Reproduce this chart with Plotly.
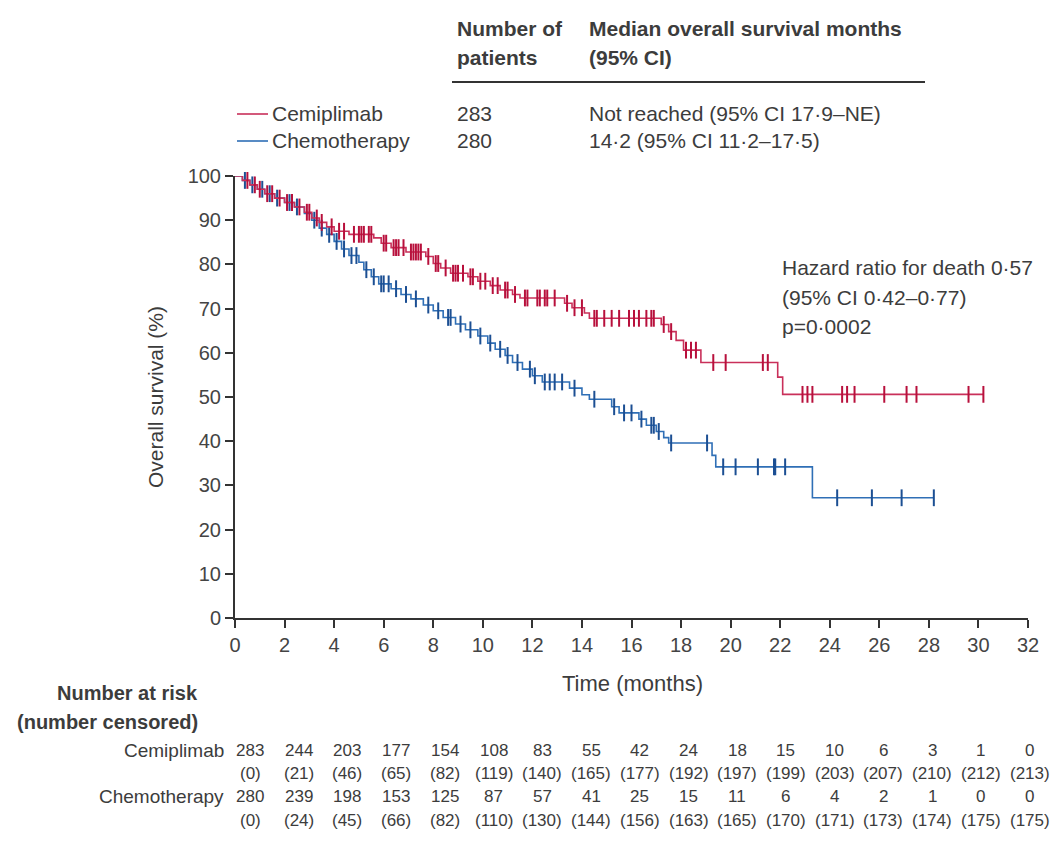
import numpy as np
import plotly.graph_objects as go

# ---- Kaplan-Meier estimates: step start times (months) and survival (%) ----
cemi_time = [0, 0.3, 0.6, 0.9, 1.2, 1.6, 2.0, 2.4, 2.8, 3.1, 3.4, 3.7, 4.0, 4.6,
             5.6, 5.9, 6.3, 6.9, 7.7, 8.0, 8.3, 8.7, 9.4, 9.8, 10.3, 10.7, 11.2,
             11.5, 13.3, 13.6, 14.1, 14.3, 17.2, 17.5, 17.8, 18.1, 18.8, 21.9, 22.1]
cemi_surv = [100, 99, 98, 97, 96, 95, 94, 93, 91.8, 90.5, 89.5, 88.5, 87.5, 86.8,
             86, 84.8, 83.8, 82.8, 81.8, 80.2, 79.2, 78, 77.2, 76.2, 75.2, 74.2, 73.2,
             72.4, 71.2, 70.2, 69, 67.8, 66.4, 64.8, 62.8, 60.6, 57.8, 54.5, 50.6]
cemi_last = 30.2

chemo_time = [0, 0.3, 0.6, 0.9, 1.2, 1.6, 2.0, 2.4, 2.8, 3.1, 3.4, 3.7, 4.0, 4.3,
              4.6, 5.0, 5.2, 5.5, 5.8, 6.3, 6.7, 7.1, 7.6, 8.0, 8.4, 8.9, 9.3, 9.8,
              10.2, 10.5, 10.9, 11.2, 11.6, 12.0, 12.4, 13.5, 14.0, 14.3, 15.2, 15.5,
              16.3, 16.6, 17.0, 17.3, 17.5, 19.25, 19.4, 23.3]
chemo_surv = [100, 99, 98, 97, 96, 95, 94, 93, 91.5, 90, 88.2, 86.8, 85.2, 83.5,
              82, 80.5, 78.8, 77.2, 75.6, 74.5, 73.2, 72.2, 70.8, 69.5, 68, 66.5, 65.2, 63.8,
              62.2, 60.8, 59.4, 57.8, 56.3, 54.8, 53.4, 52, 50.5, 49.5, 47.8, 46.4,
              45, 43.6, 42.2, 40.8, 39.6, 36.8, 34.2, 27.2]
chemo_last = 28.2

# ---- censoring times (months) ----
cemi_censor = [0.5, 0.8, 1.0, 1.3, 1.5, 1.8, 2.1, 2.3, 2.6, 2.9, 3.0, 3.3, 3.5, 3.9,
               4.2, 4.4, 4.8, 5.0, 5.1, 5.2, 5.4, 5.5, 6.0, 6.1, 6.4, 6.5, 6.6, 6.8,
               7.1, 7.2, 7.3, 7.4, 7.5, 7.8, 8.1, 8.2, 8.5, 8.8, 8.9, 9.0, 9.2, 9.5,
               9.6, 9.9, 10.1, 10.4, 10.6, 10.9, 11.0, 11.3, 11.7, 11.8, 12.2, 12.3,
               12.5, 12.6, 12.9, 13.4, 13.7, 14.0, 14.5, 14.6, 14.9, 15.2, 15.5, 15.9,
               16.1, 16.3, 16.6, 16.8, 16.9, 17.3, 17.6, 18.2, 18.4, 18.6, 19.3, 19.8,
               21.3, 21.5, 22.9, 23.1, 23.3, 24.5, 24.7, 25.0, 26.2, 27.1, 27.5, 29.6, 30.2]
chemo_censor = [0.4, 0.7, 1.1, 1.4, 1.7, 2.2, 2.5, 3.2, 3.5, 3.8, 4.1, 4.4, 4.7, 4.9,
                5.3, 5.6, 5.9, 6.0, 6.2, 6.5, 6.9, 7.3, 7.8, 8.2, 8.6, 8.7, 9.1, 9.5,
                9.9, 10.3, 10.7, 11.0, 11.4, 11.9, 12.1, 12.5, 12.7, 12.9, 13.2, 13.7,
                14.5, 15.3, 15.7, 16.0, 16.4, 16.8, 16.9, 17.1, 17.6, 19.05, 19.7, 20.2,
                21.1, 21.75, 21.8, 22.2, 24.3, 25.7, 26.9, 28.2]

# ---- number at risk table ----
risk_times = list(range(0, 33, 2))
cemi_risk = [283, 244, 203, 177, 154, 108, 83, 55, 42, 24, 18, 15, 10, 6, 3, 1, 0]
cemi_cens = [0, 21, 46, 65, 82, 119, 140, 165, 177, 192, 197, 199, 203, 207, 210, 212, 213]
chemo_risk = [280, 239, 198, 153, 125, 87, 57, 41, 25, 15, 11, 6, 4, 2, 1, 0, 0]
chemo_cens = [0, 24, 45, 66, 82, 110, 130, 144, 156, 163, 165, 170, 171, 173, 174, 175, 175]

RED_LINE, RED_MARK = "#C9305A", "#B8103C"
BLUE_LINE, BLUE_MARK = "#2F6FB6", "#1C4F93"
TXT = "#3c3c3c"
FONT = "Liberation Sans, Arial, sans-serif"

W, H = 1053, 854
L, R, T, B = 235, 25, 176, 236
PW, PH = W - L - R, H - T - B


def px(x):
    return (x - L) / PW


def py(y):
    return (H - B - y) / PH


def surv_at(times, survs, t):
    i = np.searchsorted(np.array(times), t, side="right") - 1
    return survs[i]


fig = go.Figure()

for times, survs, last, cens, lc, mc in [
    (chemo_time, chemo_surv, chemo_last, chemo_censor, BLUE_LINE, BLUE_MARK),
    (cemi_time, cemi_surv, cemi_last, cemi_censor, RED_LINE, RED_MARK),
]:
    fig.add_trace(go.Scatter(
        x=list(times) + [last], y=list(survs) + [survs[-1]],
        mode="lines", line=dict(color=lc, width=1.6, shape="hv"),
        cliponaxis=False, hoverinfo="skip"))
    fig.add_trace(go.Scatter(
        x=cens, y=[surv_at(times, survs, t) for t in cens],
        mode="markers", cliponaxis=False,
        marker=dict(symbol="line-ns", size=12, line=dict(color=mc, width=2))))

ann = []


def text(x, y, s, size=21, anchor="left", bold=False, color=TXT):
    ann.append(dict(x=px(x), y=py(y), xref="paper", yref="paper",
                    text=f"<b>{s}</b>" if bold else s, showarrow=False,
                    xanchor=anchor, yanchor="middle",
                    font=dict(family=FONT, size=size, color=color)))


# header table with legend
text(455, 28, "Number of", bold=True)
text(455, 57, "patients", bold=True)
text(587, 28, "Median overall survival months", bold=True)
text(587, 57, "(95% CI)", bold=True)
text(270, 113, "Cemiplimab")
text(270, 140, "Chemotherapy")
text(455, 113, "283")
text(455, 140, "280")
text(587, 113, "Not reached (95% CI 17·9–NE)")
text(587, 140, "14·2 (95% CI 11·2–17·5)")

# hazard ratio
text(780, 267, "Hazard ratio for death 0·57")
text(780, 297, "(95% CI 0·42–0·77)")
text(780, 326, "p=0·0002")

# axis titles
text(632, 683, "Time (months)", size=22, anchor="center")
ann.append(dict(x=px(155), y=py(397), xref="paper", yref="paper",
                text="Overall survival (%)", showarrow=False, textangle=-90,
                xanchor="center", yanchor="middle",
                font=dict(family=FONT, size=21, color=TXT)))

# number at risk
text(200, 693, "Number at risk", size=20, anchor="right", bold=True)
text(200, 722, "(number censored)", size=20, anchor="right", bold=True)
text(226, 750, "Cemiplimab", size=19, anchor="right")
text(226, 796, "Chemotherapy", size=19, anchor="right")
for row_y, vals, paren in [(750, cemi_risk, False), (773, cemi_cens, True),
                           (796, chemo_risk, False), (820, chemo_cens, True)]:
    for t, v in zip(risk_times, vals):
        ann.append(dict(x=t, y=py(row_y), xref="x", yref="paper",
                        xshift=15 - 0.42 * t,
                        text=f"({v})" if paren else str(v), showarrow=False,
                        xanchor="center", yanchor="middle",
                        font=dict(family=FONT, size=17, color=TXT)))

shapes = [
    dict(type="line", xref="paper", yref="paper", x0=px(452), x1=px(925),
         y0=py(82), y1=py(82), line=dict(color="#333", width=2)),
    dict(type="line", xref="paper", yref="paper", x0=px(237), x1=px(268),
         y0=py(114), y1=py(114), line=dict(color=RED_LINE, width=1.6)),
    dict(type="line", xref="paper", yref="paper", x0=px(237), x1=px(268),
         y0=py(141), y1=py(141), line=dict(color=BLUE_LINE, width=1.6)),
]

axis_common = dict(showline=True, linecolor="#333", linewidth=2, ticks="outside",
                   ticklen=8, tickwidth=1.5, tickcolor="#333", showgrid=False,
                   zeroline=False, tickfont=dict(family=FONT, size=20, color="#444"))

fig.update_layout(
    width=W, height=H, autosize=False,
    margin=dict(l=L, r=R, t=T, b=B),
    paper_bgcolor="white", plot_bgcolor="white",
    showlegend=False,
    xaxis=dict(range=[0, 32], tickvals=list(range(0, 33, 2)), **axis_common),
    yaxis=dict(range=[0, 100], tickvals=list(range(0, 101, 10)), **axis_common),
    annotations=ann, shapes=shapes,
)

fig.write_html("out.html")
